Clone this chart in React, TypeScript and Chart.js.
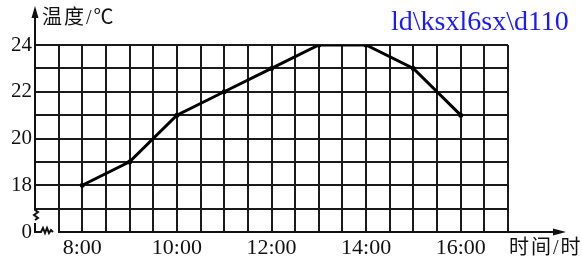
import React, { useEffect, useRef } from "react";
import { Chart, registerables } from "chart.js";

Chart.register(...registerables);

const hours = [8, 9, 10, 11, 12, 13, 14, 15, 16];
const temps = [18, 19, 21, 22, 23, 24, 24, 23, 21];
const xTickLabels: Record<number, string> = { 8: "8:00", 10: "10:00", 12: "12:00", 14: "14:00", 16: "16:00" };
const yTickLabels: Record<number, string> = { 16: "0", 18: "18", 20: "20", 22: "22", 24: "24" };
const yTitle = "温度/℃";
const xTitle = "时间/时";
const watermark = "ld\\ksxl6sx\\d110";

const FONT = "'Liberation Serif', 'Times New Roman', 'Noto Sans CJK SC', serif";

const axesPlugin = {
  id: "axesDecor",
  afterDraw(chart: any) {
    const ctx = chart.ctx;
    const a = chart.chartArea;
    const L = a.left, B = a.bottom;
    ctx.save();
    ctx.strokeStyle = "#111";
    ctx.fillStyle = "#111";
    ctx.lineWidth = 2;
    ctx.lineJoin = "miter";
    // y axis with break
    ctx.beginPath();
    ctx.moveTo(L, 14);
    ctx.lineTo(L, B - 22);
    ctx.lineTo(L + 3, B - 20);
    ctx.lineTo(L - 1, B - 17);
    ctx.lineTo(L + 3, B - 14);
    ctx.lineTo(L, B - 12);
    ctx.stroke();
    ctx.beginPath();
    ctx.moveTo(L, B - 9);
    ctx.lineTo(L, B);
    ctx.lineTo(L + 6, B);
    ctx.lineTo(L + 8, B - 4);
    ctx.lineTo(L + 10, B + 1);
    ctx.lineTo(L + 12, B - 4);
    ctx.lineTo(L + 14, B + 1);
    ctx.lineTo(L + 16, B - 2);
    ctx.lineTo(L + 18, B);
    ctx.stroke();
    ctx.beginPath();
    ctx.moveTo(a.left + 23, B);
    ctx.lineTo(557, B);
    ctx.stroke();
    // arrows
    ctx.beginPath();
    ctx.moveTo(L, 6);
    ctx.lineTo(L - 3.5, 18);
    ctx.lineTo(L + 3.5, 18);
    ctx.closePath();
    ctx.fill();
    ctx.beginPath();
    ctx.moveTo(566, B);
    ctx.lineTo(553, B - 3.5);
    ctx.lineTo(553, B + 3.5);
    ctx.closePath();
    ctx.fill();
    // titles
    ctx.font = "20px " + FONT;
    ctx.textBaseline = "middle";
    ctx.textAlign = "left";
    try { (ctx as any).letterSpacing = "2px"; } catch (e) {}
    ctx.fillText(yTitle, 42, 19);
    ctx.fillText(xTitle, 509, 249);
    try { (ctx as any).letterSpacing = "0px"; } catch (e) {}
    ctx.fillStyle = "#1a1aff";
    ctx.font = "28px " + FONT;
    ctx.fillText(watermark, 391, 23);
    ctx.restore();
  },
};

export default function App() {
  const ref = useRef<HTMLCanvasElement>(null);
  useEffect(() => {
    const chart = new Chart(ref.current!, {
      type: "line",
      data: {
        datasets: [
          {
            data: hours.map((h, i) => ({ x: h, y: temps[i] })),
            borderColor: "#000",
            backgroundColor: "#000",
            borderWidth: 3,
            pointRadius: 2.5,
            pointBorderWidth: 0,
            tension: 0,
          },
        ],
      },
      options: {
        animation: false,
        responsive: false,
        maintainAspectRatio: false,
        layout: { padding: { top: 45, right: 74, left: 0, bottom: 0 } },
        plugins: { legend: { display: false }, tooltip: { enabled: false } },
        scales: {
          x: {
            type: "linear",
            min: 7,
            max: 17,
            afterBuildTicks: (scale: any) => {
              const t = [];
              for (let v = 7; v <= 17.001; v += 0.5) t.push({ value: v });
              scale.ticks = t;
            },
            afterFit: (scale: any) => {
              scale.height = 31;
            },
            border: { display: false },
            grid: {
              drawTicks: false,
              lineWidth: 2,
              color: (c: any) => (c.tick && c.tick.value === 7 ? "rgba(0,0,0,0)" : "#1a1a1a"),
            },
            ticks: {
              autoSkip: false,
              maxRotation: 0,
              padding: 3,
              color: "#111",
              font: { family: FONT, size: 22 },
              callback: (v: any) => xTickLabels[v] ?? "",
            },
          },
          y: {
            type: "linear",
            min: 16,
            max: 24,
            afterBuildTicks: (scale: any) => {
              const t = [];
              for (let v = 16; v <= 24; v += 1) t.push({ value: v });
              scale.ticks = t;
            },
            afterFit: (scale: any) => {
              scale.width = 35;
            },
            border: { display: false },
            grid: {
              drawTicks: false,
              lineWidth: 2,
              color: (c: any) => (c.tick && c.tick.value === 16 ? "rgba(0,0,0,0)" : "#1a1a1a"),
            },
            ticks: {
              autoSkip: false,
              padding: 3,
              color: "#111",
              font: { family: FONT, size: 21 },
              callback: (v: any) => yTickLabels[v] ?? "",
            },
          },
        },
      },
      plugins: [axesPlugin],
    } as any);
    return () => chart.destroy();
  }, []);
  return (
    <div style={{ position: "absolute", left: 0, top: 0, width: 582, height: 263, background: "#fff" }}>
      <canvas ref={ref} width={582} height={263} style={{ width: 582, height: 263 }} />
    </div>
  );
}
